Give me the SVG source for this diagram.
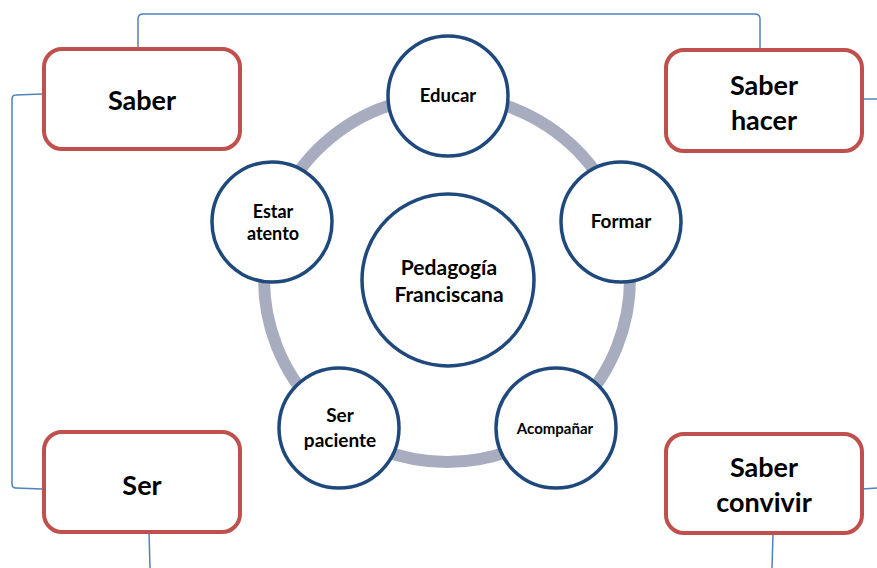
<svg xmlns="http://www.w3.org/2000/svg" width="877" height="568" viewBox="0 0 877 568">
  <style>
    .box { fill: #ffffff; stroke: #c0504d; stroke-width: 4; }
    .ring { fill: none; stroke: #a7adbf; stroke-width: 12; }
    .node { fill: #ffffff; stroke: #1f497d; stroke-width: 3.5; }
    .link { fill: none; stroke: #4f81bd; stroke-width: 1.5; }
    text { font-family: Lato, "Open Sans", "Liberation Sans", sans-serif; font-weight: bold; fill: #000000; text-anchor: middle; }
    .big { font-size: 27px; }
    .mid { font-size: 19px; }
  </style>
  <rect width="877" height="568" fill="#ffffff"/>

  <!-- connectors between the outer boxes -->
  <g id="connectors">
    <path class="link" d="M138,47 L138,19 Q138,14 143,14 L755,14 Q760,14 760,19 L760,48"/>
    <path class="link" d="M42,94 L16,95 Q12,95 12,99 L12,484 Q12,488 16,488 L42,489"/>
    <path class="link" d="M862,99 L877,99"/>
    <path class="link" d="M862,489 L877,488"/>
    <path class="link" d="M149,532 L150,568"/>
    <path class="link" d="M773,533 L772,568"/>
  </g>

  <!-- cycle ring -->
  <circle class="ring" cx="447" cy="279" r="183"/>

  <g id="saber">
    <rect class="box" x="44" y="49" width="196" height="100" rx="18"/>
    <text class="big" x="142" y="110">Saber</text>
  </g>
  <g id="saber-hacer">
    <rect class="box" x="666" y="50" width="196" height="101" rx="18"/>
    <text class="big" x="764" y="95">Saber</text>
    <text class="big" x="764" y="130">hacer</text>
  </g>
  <g id="ser">
    <rect class="box" x="44" y="432" width="196" height="100" rx="18"/>
    <text class="big" x="142" y="495">Ser</text>
  </g>
  <g id="saber-convivir">
    <rect class="box" x="666" y="434" width="196" height="99" rx="18"/>
    <text class="big" x="764" y="477">Saber</text>
    <text class="big" x="764" y="512">convivir</text>
  </g>

  <g id="pedagogia">
    <circle class="node" cx="448" cy="280" r="86"/>
    <text x="449" y="275" font-size="21">Pedagogía</text>
    <text x="449" y="302" font-size="21">Franciscana</text>
  </g>
  <g id="educar">
    <circle class="node" cx="448" cy="96" r="60"/>
    <text x="448" y="102" font-size="18.5">Educar</text>
  </g>
  <g id="formar">
    <circle class="node" cx="621" cy="222" r="60"/>
    <text class="mid" x="621" y="228">Formar</text>
  </g>
  <g id="acompanar">
    <circle class="node" cx="556" cy="428" r="60"/>
    <text x="555" y="434" font-size="15">Acompañar</text>
  </g>
  <g id="ser-paciente">
    <circle class="node" cx="339" cy="428" r="60"/>
    <text class="mid" x="340" y="422">Ser</text>
    <text class="mid" x="340" y="447">paciente</text>
  </g>
  <g id="estar-atento">
    <circle class="node" cx="272" cy="222" r="60"/>
    <text x="273" y="218" font-size="18">Estar</text>
    <text x="273" y="240" font-size="18">atento</text>
  </g>
</svg>
